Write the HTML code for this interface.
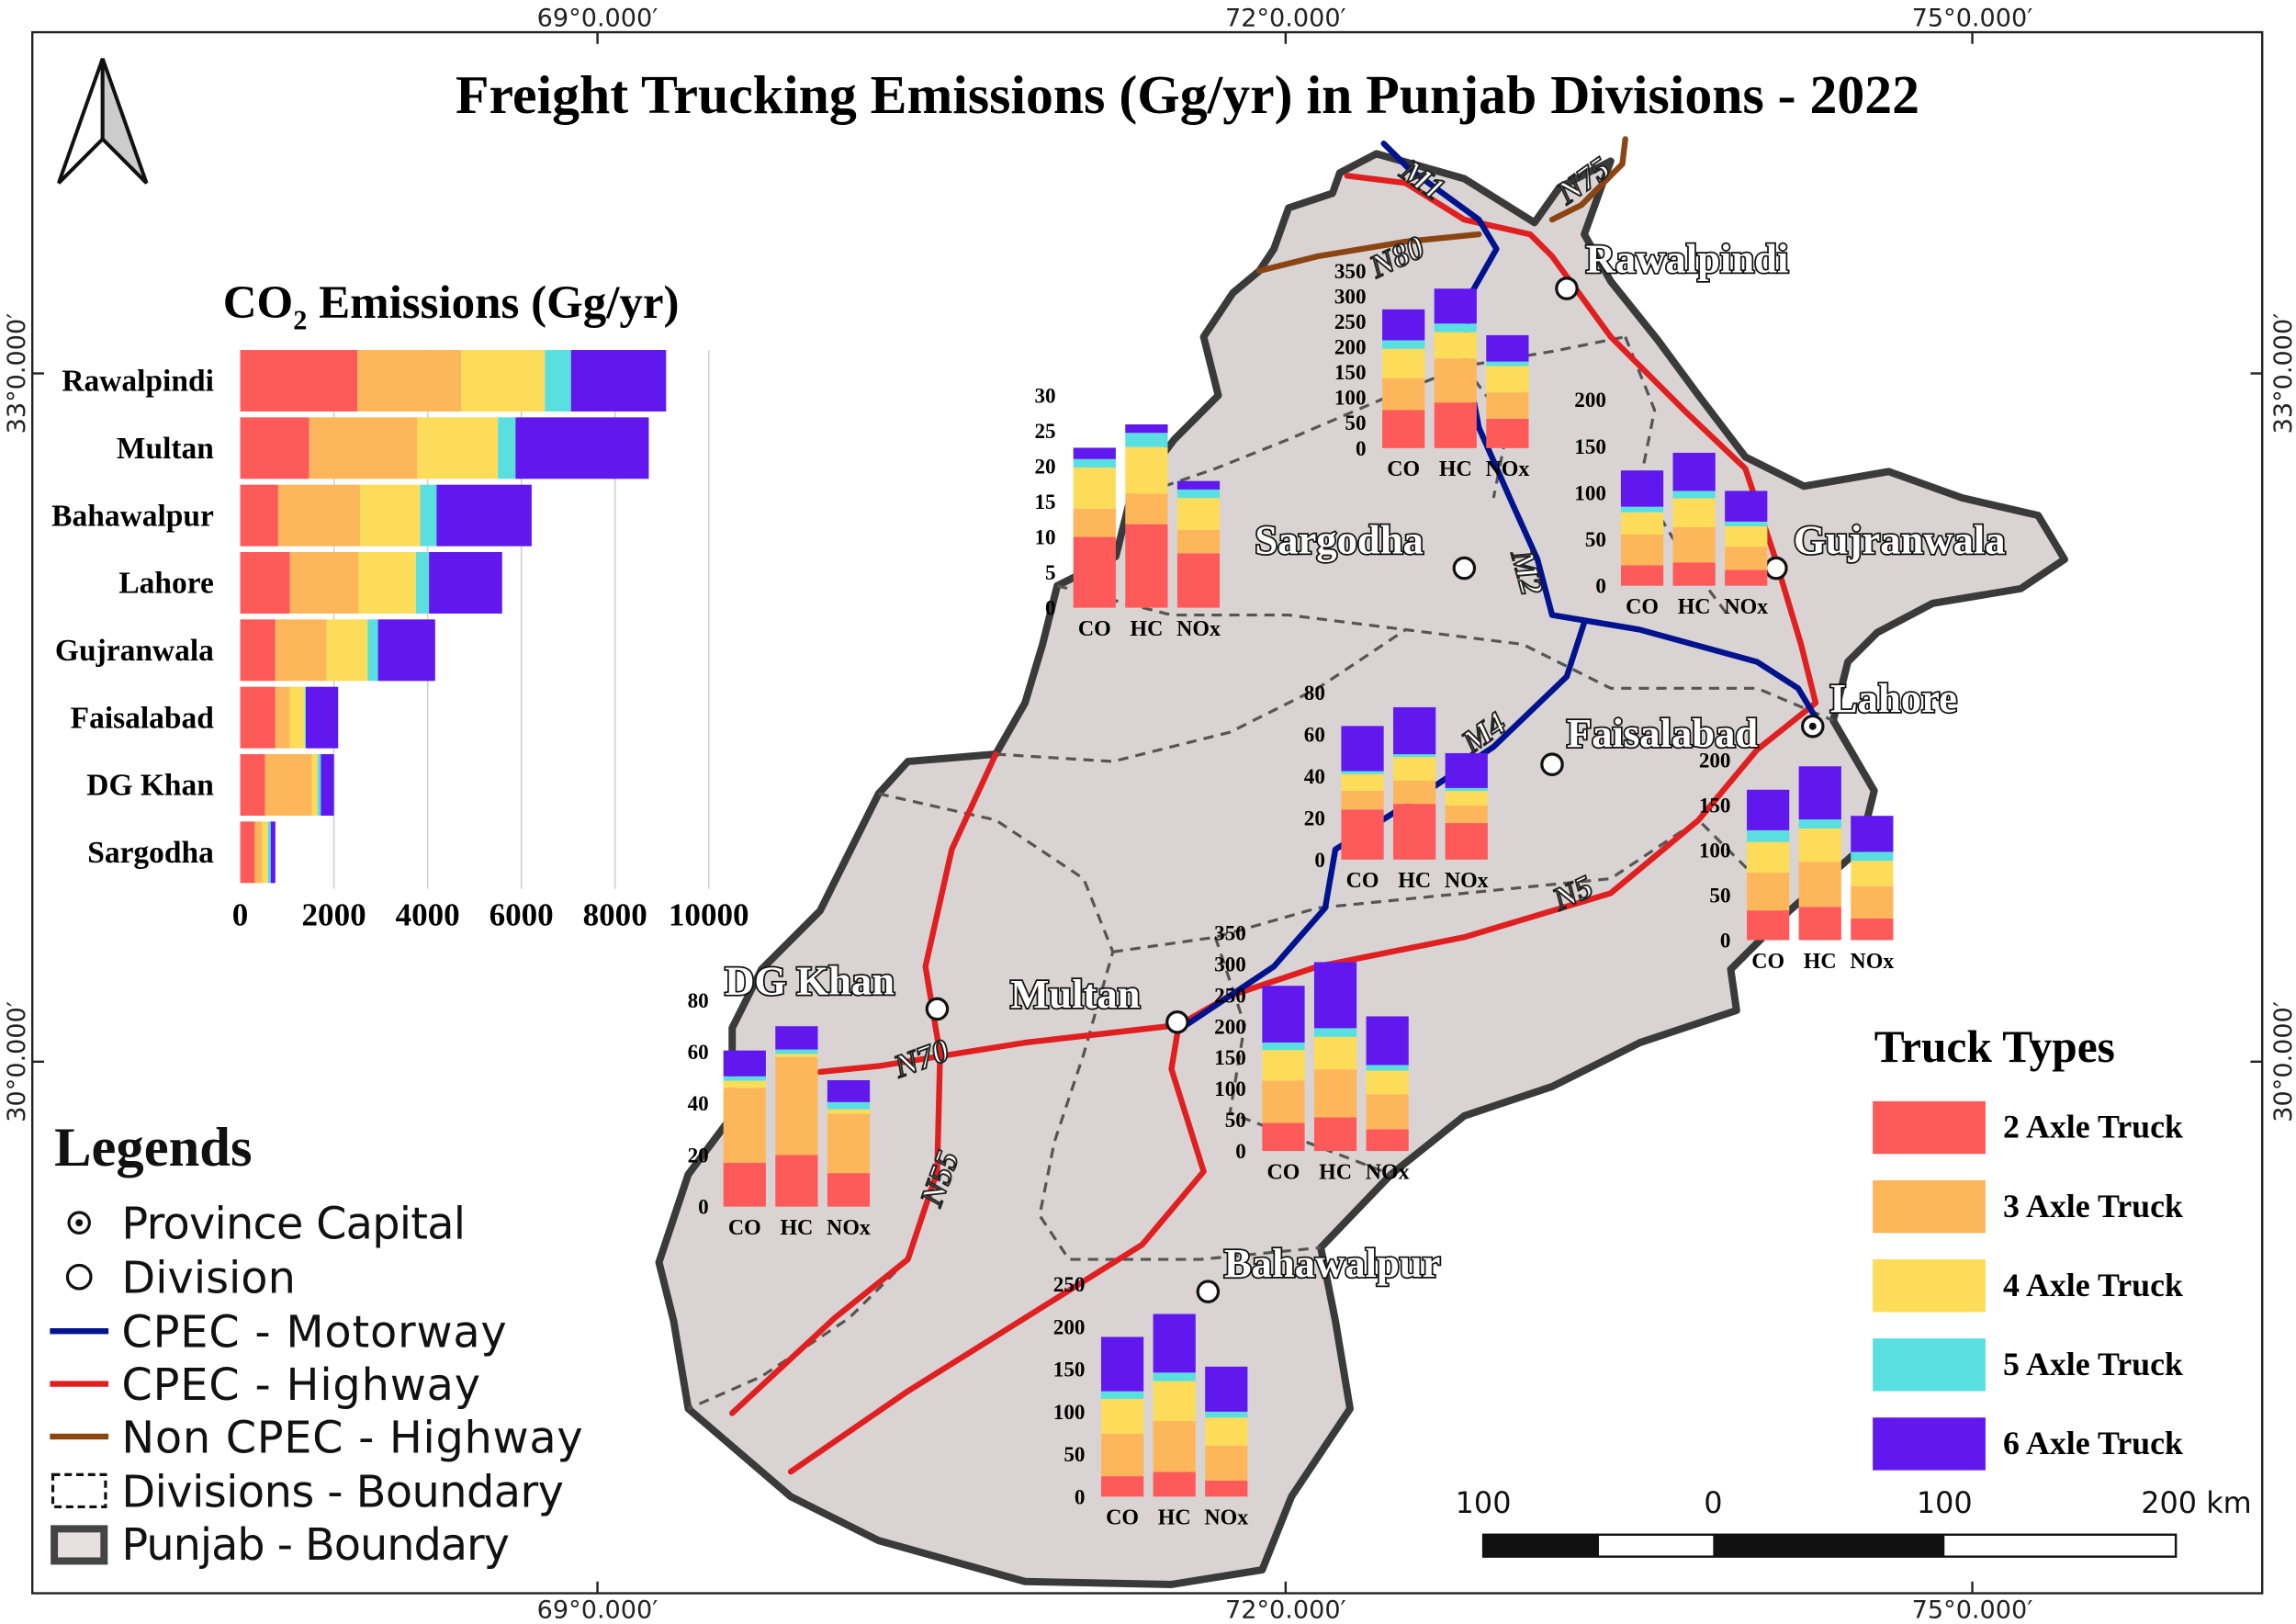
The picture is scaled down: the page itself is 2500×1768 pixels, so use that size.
<!DOCTYPE html>
<html><head><meta charset="utf-8"><style>
html,body{margin:0;padding:0;background:#fff;}
svg{display:block;}
.serif{font-family:"Liberation Serif",serif;}
.sans{font-family:"DejaVu Sans","Liberation Sans",sans-serif;}
</style></head><body>
<svg id="root" width="2500" height="1768" viewBox="0 0 1568 1109" xmlns="http://www.w3.org/2000/svg">
<rect x="0" y="0" width="1568" height="1109" fill="#fff"/>
<rect x="22" y="22" width="1523" height="1066" fill="none" stroke="#222" stroke-width="1.5"/>
<g class="sans" font-size="17" fill="#222" text-anchor="middle">
<text x="408" y="18">69°0.000′</text><text x="878" y="18">72°0.000′</text><text x="1347" y="18">75°0.000′</text>
<text x="408" y="1105">69°0.000′</text><text x="878" y="1105">72°0.000′</text><text x="1347" y="1105">75°0.000′</text>
<text transform="translate(17,255) rotate(-90)">33°0.000′</text><text transform="translate(17,725) rotate(-90)">30°0.000′</text>
<text transform="translate(1565,255) rotate(-90)">33°0.000′</text><text transform="translate(1565,725) rotate(-90)">30°0.000′</text>
</g>
<g stroke="#222" stroke-width="1.5">
<line x1="408" y1="22" x2="408" y2="30"/><line x1="878" y1="22" x2="878" y2="30"/><line x1="1347" y1="22" x2="1347" y2="30"/>
<line x1="408" y1="1080" x2="408" y2="1088"/><line x1="878" y1="1080" x2="878" y2="1088"/><line x1="1347" y1="1080" x2="1347" y2="1088"/>
<line x1="22" y1="255" x2="30" y2="255"/><line x1="22" y1="725" x2="30" y2="725"/>
<line x1="1537" y1="255" x2="1545" y2="255"/><line x1="1537" y1="725" x2="1545" y2="725"/>
</g>
<text class="serif" x="811" y="77" font-size="37.5" font-weight="bold" text-anchor="middle">Freight Trucking Emissions (Gg/yr) in Punjab Divisions - 2022</text>
<g>
<polygon points="70,40 40,125 70,95" fill="#fff" stroke="#111" stroke-width="2.5"/>
<polygon points="70,40 100,125 70,95" fill="#ccc" stroke="#111" stroke-width="2.5"/>
</g>
<g>
<path fill="#d9d3d3" stroke="#3a3a3a" stroke-width="5" stroke-linejoin="round" d="M915,118 L940,105 L1000,122 L1048,152 L1065,128 L1100,110 L1082,160 L1100,192 L1132,232 L1160,270 L1192,312 L1232,332 L1290,322 L1340,340 L1392,352 L1410,382 L1380,402 L1320,412 L1282,432 L1262,452 L1252,492 L1280,540 L1270,580 L1222,622 L1182,662 L1186,690 L1120,712 L1060,742 L1000,762 L950,802 L902,852 L912,902 L922,962 L882,1022 L862,1072 L800,1082 L700,1080 L600,1052 L540,1022 L470,962 L460,902 L450,862 L470,802 L500,762 L500,702 L520,662 L560,622 L580,582 L600,542 L620,520 L680,515 L700,480 L712,440 L722,400 L762,380 L772,340 L802,300 L832,270 L822,230 L842,200 L860,185 L870,170 L880,142 L910,132 Z"/>
<g fill="none" stroke="#555" stroke-width="2" stroke-dasharray="7,5">
<path d="M772,340 L830,320 L880,300 L950,270 L1000,250 L1060,240 L1110,230"/>
<path d="M1110,230 L1130,280 L1120,330 L1150,380 L1180,420"/>
<path d="M722,400 L800,420 L880,420 L960,430 L1040,440 L1100,470 L1200,470 L1252,492"/>
<path d="M680,515 L760,520 L840,500 L900,470 L960,430"/>
<path d="M600,542 L680,560 L740,600 L760,650 L740,720 L720,780 L710,830 L730,860 L820,860 L902,852"/>
<path d="M760,650 L830,640 L900,620 L1000,610 L1100,600 L1160,560 L1222,622"/>
<path d="M830,640 L850,700 L840,760 L950,802"/>
<path d="M620,860 L580,900 L520,940 L470,962"/>
<path d="M1000,250 L1030,290 L1020,340"/>
</g>
<g fill="none" stroke-linejoin="round" stroke-linecap="round">
<path stroke="#8b4513" stroke-width="4" d="M860,185 L900,175 L960,165 L1010,160"/>
<path stroke="#8b4513" stroke-width="4" d="M1110,95 L1108,112 L1080,140 L1060,150"/>
<path stroke="#e02020" stroke-width="4" d="M920,120 L960,125 L1000,150 L1045,160 L1060,175 L1100,230 L1150,280 L1192,320 L1212,380 L1230,440 L1240,480 L1200,512 L1160,560 L1100,610 L1000,640 L900,660 L840,680 L805,700 L700,712 L650,720 L600,728 L560,732"/>
<path stroke="#e02020" stroke-width="4" d="M680,515 L650,580 L632,660 L642,720 L640,800 L620,860 L570,900 L500,965"/>
<path stroke="#e02020" stroke-width="4" d="M805,700 L800,730 L822,800 L780,850 L700,900 L620,950 L540,1005"/>
<path stroke="#00138f" stroke-width="4" d="M945,98 L962,115 L1010,150 L1022,170 L1005,200 L1000,240 L1010,292 L1032,342 L1050,382 L1060,420 L1120,430 L1200,452 L1228,470 L1240,490"/>
<path stroke="#00138f" stroke-width="4" d="M1082,425 L1070,462 L1020,510 L960,550 L912,580 L905,620 L870,660 L810,700"/>
</g>
<g class="serif" font-size="22" font-weight="bold" font-style="italic" fill="#fff" stroke="#222" stroke-width="1.2">
<text transform="translate(955,120) rotate(35)">M1</text>
<text transform="translate(1070,140) rotate(-35)">N75</text>
<text transform="translate(940,190) rotate(-25)">N80</text>
<text transform="translate(1032,378) rotate(75)">M2</text>
<text transform="translate(1005,515) rotate(-35)">M4</text>
<text transform="translate(1065,622) rotate(-25)">N5</text>
<text transform="translate(614,736) rotate(-20)">N70</text>
<text transform="translate(642,825) rotate(-70)">N55</text>
</g>
<g id="cities"></g>
<g id="minis"></g>
</g>
<g id="co2chart"></g>
<g class="sans" font-size="30" fill="#111">
<text class="serif" x="37" y="796" font-size="38" font-weight="bold">Legends</text>
<circle cx="54" cy="835" r="7" fill="#fff" stroke="#111" stroke-width="2"/><circle cx="54" cy="835" r="2.5" fill="#111"/>
<text x="83" y="846" textLength="235">Province Capital</text>
<circle cx="54" cy="872" r="8" fill="#fff" stroke="#111" stroke-width="2"/>
<text x="83" y="883">Division</text>
<line x1="34" y1="909" x2="74" y2="909" stroke="#00138f" stroke-width="4"/><text x="83" y="920" textLength="263">CPEC - Motorway</text>
<line x1="34" y1="945" x2="74" y2="945" stroke="#e02020" stroke-width="4"/><text x="83" y="956" textLength="245">CPEC - Highway</text>
<line x1="34" y1="981" x2="74" y2="981" stroke="#8b4513" stroke-width="4"/><text x="83" y="992" textLength="315">Non CPEC - Highway</text>
<rect x="36" y="1007" width="36" height="22" fill="none" stroke="#111" stroke-width="2" stroke-dasharray="5,3"/><text x="83" y="1029" textLength="302">Divisions - Boundary</text>
<rect x="37" y="1044" width="34" height="22" fill="#e8e0e0" stroke="#444" stroke-width="5"/><text x="83" y="1065" textLength="265">Punjab - Boundary</text>
</g>
<g id="trucklegend"></g>
<g>
<g class="sans" font-size="20" fill="#111" text-anchor="middle">
<text x="1013" y="1033">100</text><text x="1170" y="1033">0</text><text x="1328" y="1033">100</text><text x="1500" y="1033">200 km</text>
</g>
<rect x="1013" y="1048" width="473" height="15" fill="#fff" stroke="#111" stroke-width="1.5"/>
<rect x="1013" y="1048" width="79" height="15" fill="#111"/>
<rect x="1170" y="1048" width="158" height="15" fill="#111"/>
</g>
</svg>
<script>
const NS="http://www.w3.org/2000/svg";
// CO2 chart data
const co2Divisions=["Rawalpindi","Multan","Bahawalpur","Lahore","Gujranwala","Faisalabad","DG Khan","Sargodha"];
const co2Axle2=[2500,1470,810,1060,750,750,530,310];
const co2Axle3=[2220,2310,1750,1470,1090,310,1000,160];
const co2Axle4=[1780,1720,1280,1220,880,315,120,120];
const co2Axle5=[560,375,350,280,220,25,70,60];
const co2Axle6=[2030,2845,2030,1560,1220,690,280,100];
const co2Ticks=[0,2000,4000,6000,8000,10000];
const truckTypes=["2 Axle Truck","3 Axle Truck","4 Axle Truck","5 Axle Truck","6 Axle Truck"];
const pollutants=["CO","HC","NOx"];
// mini chart data: per division, [CO segments, HC segments, NOx segments] by axle 2..6
const rawalpindiVals=[[75,63,58,17,61],[90,87,52,17,69],[58,52,52,9,52]];
const sargodhaVals=[[10,4,5.8,1.2,1.6],[11.8,4.3,6.6,2,1.2],[7.7,3.3,4.5,1.2,1.2]];
const gujranwalaVals=[[22,33,24,6,39],[25,38,31,8,41],[17,25,22,5,33]];
const faisalabadVals=[[24,9,8,1.4,21.6],[26.7,11.2,11.2,1.4,22.5],[17.5,8.4,7,1.4,16.7]];
const lahoreVals=[[33,42,34,13,45],[37,50,37,10,59],[24,36,28,10,40]];
const multanVals=[[45,68,49,12,91],[54,77,52,14,106],[35,56,38,9,78]];
const dgkhanVals=[[17,29,2.8,1.7,10],[20,38,1.2,1.7,9],[13,23,1.7,2.8,8.5]];
const bahawalpurVals=[[24,50,41,9,64],[29,60,47,10,69],[19,41,33,7,53]];
const rawalpindiTicks=[0,50,100,150,200,250,300,350];
const sargodhaTicks=[0,5,10,15,20,25,30];
const gujranwalaTicks=[0,50,100,150,200];
const faisalabadTicks=[0,20,40,60,80];
const lahoreTicks=[0,50,100,150,200];
const multanTicks=[0,50,100,150,200,250,300,350];
const dgkhanTicks=[0,20,40,60,80];
const bahawalpurTicks=[0,50,100,150,200,250];

const colors=["#fe5a5a","#fdb75a","#fddc5a","#5adfe0","#6018ee"];
function mk(tag,attrs,parent,text){const e=document.createElementNS(NS,tag);for(const k in attrs)e.setAttribute(k,attrs[k]);if(text!==undefined)e.textContent=text;parent.appendChild(e);return e;}

// CO2 chart
(function(){
const g=document.getElementById('co2chart');
const x0=164,x1=484,vmax=10000,rowTop=239,rowH=46,barH=42;
const sx=v=>x0+(v-0)*(x1-x0)/vmax;
const t=mk('text',{x:308,y:217,'font-size':32,'font-weight':'bold','text-anchor':'middle',class:'serif'},g);


t.innerHTML='CO<tspan font-size="19" dy="8">2</tspan><tspan dy="-8"> Emissions (Gg/yr)</tspan>';
co2Ticks.forEach(v=>{
 if(v>0){const l=mk('line',{x1:sx(v),x2:sx(v),y1:rowTop,y2:rowTop+rowH*8,stroke:'#d0d0d0','stroke-width':1},g);
 
 }
 const tt=mk('text',{x:sx(v),y:632,'font-size':22,'font-weight':'bold','text-anchor':'middle',class:'serif'},g,String(v));
 
 
});
const series=[co2Axle2,co2Axle3,co2Axle4,co2Axle5,co2Axle6];
co2Divisions.forEach((d,i)=>{
 const y=rowTop+i*rowH;
 const lb=mk('text',{x:146,y:y+barH/2+7,'font-size':21,'font-weight':'bold','text-anchor':'end',class:'serif'},g,d);
 
 
 let acc=0;
 series.forEach((s,j)=>{
  const r=mk('rect',{x:sx(acc),y:y,width:Math.max(0,sx(acc+s[i])-sx(acc)),height:barH,fill:colors[j]},g);
  
  
  acc+=s[i];
 });
});
})();

// Mini charts
const miniLayout=[
 {name:"rawalpindi",vals:rawalpindiVals,ticks:rawalpindiTicks,x:944,y0:306,ytop:185,lx:933,labY:325},
 {name:"sargodha",vals:sargodhaVals,ticks:sargodhaTicks,x:733,y0:415,ytop:270,lx:721,labY:434},
 {name:"gujranwala",vals:gujranwalaVals,ticks:gujranwalaTicks,x:1107,y0:400,ytop:273,lx:1097,labY:419},
 {name:"faisalabad",vals:faisalabadVals,ticks:faisalabadTicks,x:916,y0:587,ytop:473,lx:905,labY:606},
 {name:"lahore",vals:lahoreVals,ticks:lahoreTicks,x:1193,y0:642,ytop:519,lx:1182,labY:661},
 {name:"multan",vals:multanVals,ticks:multanTicks,x:862,y0:786,ytop:637,lx:851,labY:805},
 {name:"dgkhan",vals:dgkhanVals,ticks:dgkhanTicks,x:494,y0:824,ytop:683,lx:484,labY:843},
 {name:"bahawalpur",vals:bahawalpurVals,ticks:bahawalpurTicks,x:752,y0:1022,ytop:877,lx:741,labY:1041}
];
(function(){
const root=document.getElementById('minis');
miniLayout.forEach(m=>{
 const g=mk('g',{},root);
 
 
 const tmax=m.ticks[m.ticks.length-1];
 const sy=v=>m.y0-(v/tmax)*(m.y0-m.ytop);
 m.ticks.forEach(v=>{
  const t=mk('text',{x:m.lx,y:sy(v)+5,'font-size':14.5,'font-weight':'bold','text-anchor':'end',class:'serif'},g,String(v));
  
  
 });
 m.vals.forEach((segs,b)=>{
  const bx=m.x+b*35.5;
  let acc=0;
  segs.forEach((v,j)=>{
   const r=mk('rect',{x:bx,y:sy(acc+v),width:29,height:Math.max(0,sy(acc)-sy(acc+v)),fill:colors[j]},g);
   
   
   acc+=v;
  });
  const t=mk('text',{x:bx+14.5,y:m.labY,'font-size':15,'font-weight':'bold','text-anchor':'middle',class:'serif'},g,pollutants[b]);
  
  
 });
});
})();

// City markers
const cityNames=["Rawalpindi","Sargodha","Gujranwala","Lahore","Faisalabad","DG Khan","Multan","Bahawalpur"];
const cityLayout=[[1070,197,1083,186],[1000,388,857,378],[1213,388,1225,378],[1238,496,1250,486],[1060,522,1070,510],[640,689,495,679],[804,698,690,688],[825,882,836,872]];
(function(){
const g=document.getElementById('cities');
cityNames.forEach((n,i)=>{
 const c=cityLayout[i];
 const ci=mk('circle',{cx:c[0],cy:c[1],r:7,fill:'#fff',stroke:'#111','stroke-width':2},g);
 
 
 if(n==="Lahore"){const d=mk('circle',{cx:c[0],cy:c[1],r:2.5,fill:'#111'},g);
  
  }
 const t=mk('text',{x:c[2],y:c[3],'font-size':28,'font-weight':'bold',fill:'#fff',stroke:'#111','stroke-width':2.2,'paint-order':'stroke',class:'serif'},g,n);
 
 
});
})();

// Truck legend
(function(){
const g=document.getElementById('trucklegend');
const t=mk('text',{x:1280,y:725,'font-size':31,'font-weight':'bold',class:'serif'},g,'Truck Types');


truckTypes.forEach((n,i)=>{
 const y=752+i*54;
 const r=mk('rect',{x:1279,y:y,width:77,height:36,fill:colors[i]},g);
 
 
 const l=mk('text',{x:1368,y:y+25,'font-size':22.5,'font-weight':'bold',class:'serif'},g,n);
 
 
});
})();
</script>
</body></html>
